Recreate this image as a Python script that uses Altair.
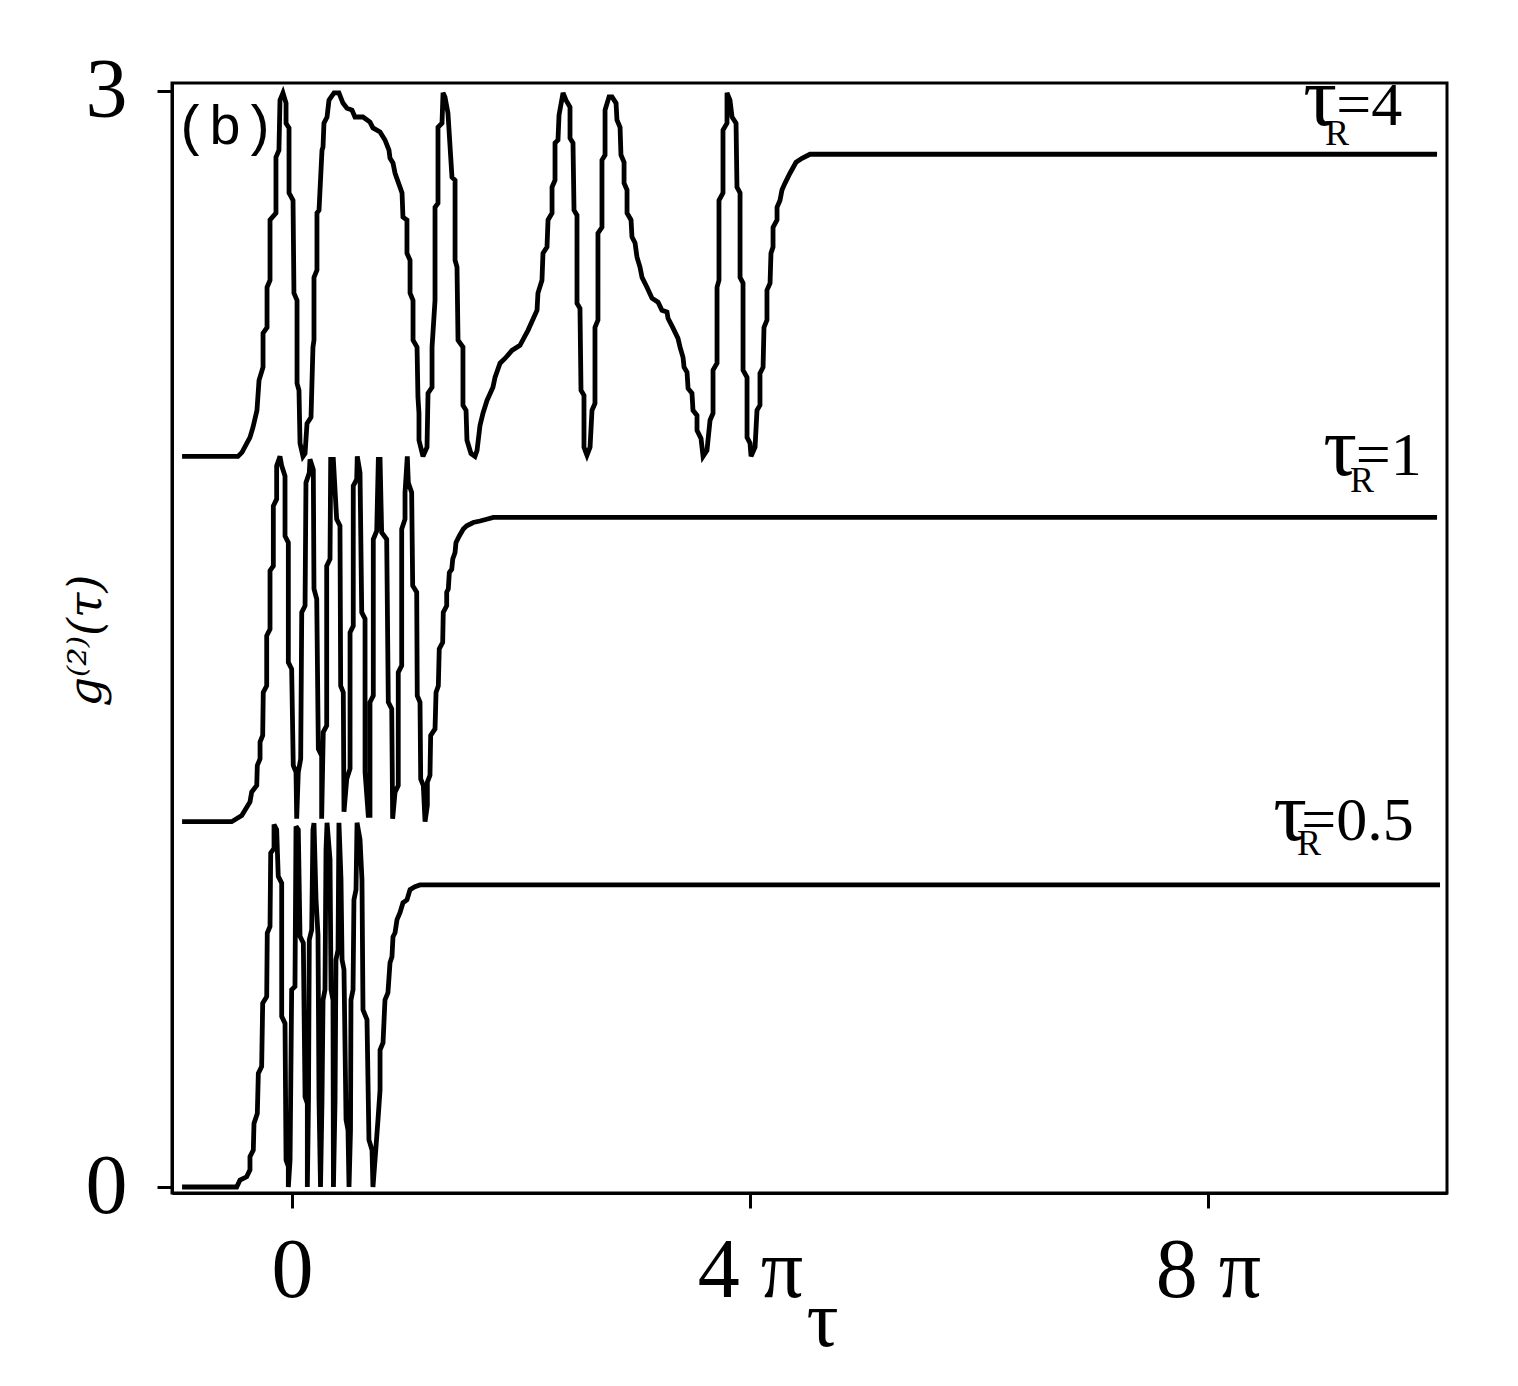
import altair as alt
import pandas as pd

# g2(tau) curves, each in [0,1], drawn with vertical offsets (x in units of pi)
TAU4 = [(-0.96, 0), (-0.472, 0), (-0.437, 0.011), (-0.367, 0.052), (-0.341, 0.079), (-0.306, 0.126),
        (-0.288, 0.208), (-0.253, 0.244), (-0.253, 0.337), (-0.218, 0.353), (-0.218, 0.463), (-0.192, 0.482),
        (-0.192, 0.647), (-0.140, 0.666), (-0.140, 0.819), (-0.114, 0.838), (-0.105, 0.975), (-0.079, 0.995),
        (-0.052, 0.967), (-0.052, 0.912), (-0.026, 0.899), (-0.026, 0.721), (0.009, 0.701), (0.017, 0.447),
        (0.044, 0.427), (0.044, 0.200), (0.061, 0.181), (0.070, 0.036), (0.096, 0.0), (0.114, 0.008),
        (0.131, 0.090), (0.166, 0.107), (0.183, 0.299), (0.192, 0.318), (0.192, 0.490), (0.218, 0.510),
        (0.218, 0.666), (0.236, 0.674), (0.262, 0.838), (0.271, 0.847), (0.279, 0.912), (0.306, 0.929),
        (0.323, 0.975), (0.367, 0.995), (0.410, 0.995), (0.445, 0.967), (0.480, 0.953), (0.524, 0.948),
        (0.550, 0.929), (0.620, 0.929), (0.681, 0.915), (0.707, 0.899), (0.769, 0.888), (0.812, 0.866),
        (0.847, 0.838), (0.856, 0.816), (0.882, 0.803), (0.900, 0.775), (0.943, 0.737), (0.961, 0.721),
        (0.969, 0.655), (1.004, 0.647), (1.004, 0.556), (1.031, 0.537), (1.031, 0.447), (1.057, 0.427),
        (1.057, 0.318), (1.092, 0.299), (1.100, 0.162), (1.109, 0.118), (1.109, 0.044), (1.144, 0.0),
        (1.179, 0.025), (1.188, 0.173), (1.223, 0.189), (1.223, 0.299), (1.249, 0.427), (1.249, 0.682),
        (1.275, 0.693), (1.275, 0.901), (1.310, 0.912), (1.319, 0.995), (1.336, 0.984), (1.362, 0.940),
        (1.397, 0.764), (1.424, 0.756), (1.424, 0.537), (1.441, 0.518), (1.450, 0.318), (1.493, 0.299),
        (1.493, 0.140), (1.520, 0.126), (1.528, 0.044), (1.563, 0.008), (1.598, 0.0), (1.616, 0.016),
        (1.642, 0.085), (1.668, 0.118), (1.703, 0.153), (1.755, 0.189), (1.773, 0.216), (1.817, 0.255),
        (1.860, 0.268), (1.921, 0.290), (1.991, 0.304), (2.061, 0.345), (2.140, 0.400), (2.148, 0.447),
        (2.183, 0.482), (2.192, 0.556), (2.227, 0.573), (2.236, 0.647), (2.271, 0.666), (2.271, 0.737),
        (2.297, 0.756), (2.297, 0.858), (2.323, 0.866), (2.332, 0.934), (2.367, 0.995), (2.393, 0.975),
        (2.428, 0.956), (2.428, 0.871), (2.454, 0.858), (2.463, 0.674), (2.489, 0.660), (2.489, 0.419),
        (2.515, 0.405), (2.524, 0.181), (2.550, 0.167), (2.550, 0.025), (2.576, 0.003), (2.603, 0.025),
        (2.620, 0.126), (2.646, 0.145), (2.646, 0.353), (2.672, 0.373), (2.672, 0.611), (2.707, 0.627),
        (2.707, 0.811), (2.734, 0.825), (2.734, 0.948), (2.769, 0.984), (2.795, 0.984), (2.830, 0.967),
        (2.838, 0.921), (2.865, 0.901), (2.873, 0.825), (2.900, 0.805), (2.900, 0.748), (2.926, 0.729),
        (2.926, 0.666), (2.961, 0.647), (2.969, 0.601), (2.996, 0.584), (3.013, 0.545), (3.039, 0.518),
        (3.057, 0.490), (3.100, 0.463), (3.144, 0.433), (3.197, 0.422), (3.231, 0.400), (3.275, 0.395),
        (3.284, 0.378), (3.328, 0.351), (3.371, 0.323), (3.389, 0.299), (3.415, 0.271), (3.424, 0.244),
        (3.450, 0.230), (3.459, 0.186), (3.493, 0.173), (3.502, 0.126), (3.537, 0.112), (3.537, 0.071),
        (3.572, 0.049), (3.590, 0.0), (3.624, 0.016), (3.651, 0.099), (3.677, 0.118), (3.677, 0.236),
        (3.712, 0.255), (3.712, 0.463), (3.729, 0.482), (3.729, 0.701), (3.764, 0.721), (3.764, 0.893),
        (3.799, 0.912), (3.799, 0.995), (3.825, 0.975), (3.843, 0.929), (3.878, 0.912), (3.886, 0.737),
        (3.913, 0.721), (3.913, 0.490), (3.939, 0.474), (3.939, 0.236), (3.974, 0.216), (3.974, 0.052),
        (4.000, 0.036), (4.009, 0.0), (4.044, 0.025), (4.061, 0.126), (4.087, 0.140), (4.087, 0.227),
        (4.114, 0.244), (4.122, 0.353), (4.148, 0.373), (4.148, 0.455), (4.175, 0.474), (4.183, 0.556),
        (4.201, 0.573), (4.201, 0.627), (4.236, 0.647), (4.236, 0.682), (4.262, 0.701), (4.279, 0.729),
        (4.306, 0.748), (4.349, 0.775), (4.402, 0.805), (4.454, 0.816), (4.524, 0.827), (4.611, 0.827),
        (10.0, 0.827)]

TAU1 = [(-0.96, 0), (-0.527, 0), (-0.439, 0.017), (-0.367, 0.054), (-0.352, 0.081), (-0.308, 0.099),
        (-0.303, 0.154), (-0.279, 0.172), (-0.279, 0.218), (-0.256, 0.236), (-0.251, 0.354), (-0.221, 0.372),
        (-0.221, 0.509), (-0.192, 0.527), (-0.192, 0.687), (-0.163, 0.700), (-0.163, 0.864), (-0.134, 0.883),
        (-0.134, 0.974), (-0.105, 1.0), (-0.090, 0.974), (-0.061, 0.946), (-0.061, 0.782), (-0.032, 0.764),
        (-0.032, 0.436), (-0.003, 0.418), (0.011, 0.154), (0.035, 0.136), (0.041, 0.008), (0.055, 0.136),
        (0.076, 0.172), (0.085, 0.573), (0.114, 0.591), (0.122, 0.928), (0.151, 0.955), (0.157, 0.992),
        (0.186, 0.964), (0.192, 0.637), (0.216, 0.609), (0.230, 0.199), (0.259, 0.181), (0.259, 0.008),
        (0.273, 0.245), (0.303, 0.263), (0.303, 0.700), (0.332, 0.719), (0.338, 0.992), (0.361, 0.992),
        (0.390, 0.828), (0.419, 0.810), (0.425, 0.372), (0.448, 0.354), (0.454, 0.027), (0.478, 0.117),
        (0.507, 0.145), (0.507, 0.518), (0.535, 0.536), (0.535, 0.919), (0.565, 0.937), (0.570, 1.0),
        (0.594, 0.955), (0.609, 0.573), (0.638, 0.555), (0.638, 0.136), (0.666, 0.017), (0.681, 0.017),
        (0.681, 0.327), (0.710, 0.345), (0.710, 0.773), (0.740, 0.796), (0.754, 0.992), (0.769, 0.992),
        (0.783, 0.792), (0.827, 0.773), (0.841, 0.327), (0.871, 0.309), (0.879, 0.008), (0.900, 0.081),
        (0.928, 0.099), (0.928, 0.409), (0.958, 0.427), (0.958, 0.801), (0.987, 0.828), (0.987, 0.901),
        (1.007, 1.0), (1.016, 0.928), (1.045, 0.901), (1.054, 0.646), (1.089, 0.628), (1.094, 0.345),
        (1.118, 0.327), (1.124, 0.117), (1.147, 0.099), (1.162, 0.0), (1.182, 0.045), (1.182, 0.108),
        (1.205, 0.127), (1.211, 0.236), (1.249, 0.254), (1.258, 0.354), (1.278, 0.372), (1.286, 0.473),
        (1.316, 0.491), (1.321, 0.573), (1.351, 0.591), (1.351, 0.628), (1.365, 0.637), (1.374, 0.682),
        (1.395, 0.691), (1.404, 0.719), (1.424, 0.737), (1.432, 0.764), (1.461, 0.782), (1.496, 0.801),
        (1.526, 0.810), (1.583, 0.819), (1.642, 0.823), (1.700, 0.828), (1.758, 0.833), (1.904, 0.833),
        (10.0, 0.833)]

TAU05 = [(-0.96, 0), (-0.483, 0), (-0.454, 0.019), (-0.396, 0.028), (-0.367, 0.047), (-0.367, 0.083),
         (-0.338, 0.101), (-0.332, 0.174), (-0.303, 0.201), (-0.294, 0.311), (-0.265, 0.330), (-0.256, 0.503),
         (-0.221, 0.521), (-0.216, 0.695), (-0.192, 0.713), (-0.186, 0.914), (-0.157, 0.927), (-0.157, 0.992),
         (-0.134, 0.978), (-0.120, 0.850), (-0.090, 0.832), (-0.090, 0.467), (-0.061, 0.448), (-0.052, 0.074),
         (-0.032, 0.056), (-0.032, 0.0), (-0.017, 0.074), (-0.003, 0.540), (0.026, 0.549), (0.035, 0.987),
         (0.055, 0.978), (0.070, 0.686), (0.099, 0.668), (0.114, 0.247), (0.134, 0.229), (0.134, 0.0),
         (0.144, 0.238), (0.151, 0.677), (0.172, 0.704), (0.183, 0.978), (0.192, 0.996), (0.210, 0.786),
         (0.227, 0.690), (0.236, 0.238), (0.249, 0.0), (0.262, 0.238), (0.271, 0.512), (0.288, 0.540),
         (0.297, 0.923), (0.306, 0.997), (0.332, 0.896), (0.341, 0.540), (0.358, 0.512), (0.362, 0.0),
         (0.376, 0.238), (0.384, 0.622), (0.402, 0.649), (0.410, 0.997), (0.428, 0.841), (0.437, 0.622),
         (0.454, 0.595), (0.472, 0.184), (0.489, 0.156), (0.498, 0.0), (0.511, 0.156), (0.515, 0.512),
         (0.533, 0.540), (0.541, 0.786), (0.559, 0.814), (0.568, 0.997), (0.594, 0.951), (0.611, 0.841),
         (0.620, 0.485), (0.655, 0.458), (0.672, 0.129), (0.699, 0.101), (0.707, 0.0), (0.725, 0.074),
         (0.751, 0.184), (0.769, 0.266), (0.769, 0.375), (0.795, 0.395), (0.812, 0.512), (0.838, 0.532),
         (0.856, 0.614), (0.873, 0.630), (0.882, 0.685), (0.900, 0.696), (0.917, 0.732), (0.943, 0.751),
         (0.969, 0.778), (1.004, 0.786), (1.031, 0.814), (1.074, 0.822), (1.118, 0.827), (1.205, 0.827),
         (10.026, 0.827)]

SERIES = ["τR=4", "τR=1", "τR=0.5"]
OFFSETS = [2, 1, 0]
CURVES = [TAU4, TAU1, TAU05]

X_TICKS = [0, 4, 8]
Y_TICKS = [0, 3]

LABEL_VALUES = ["=4", "=1", "=0.5"]
LABEL_TAU_X = [9.127, 9.301, 8.865]
LABEL_R_X = [9.022, 9.240, 8.777]
LABEL_EQ_X = [9.120, 9.290, 8.815]
LABEL_Y = [2.907, 1.949, 0.950]
LABEL_R_Y = [2.852, 1.902, 0.909]

rows = []
for name, off, curve in zip(SERIES, OFFSETS, CURVES):
    for i, (x, g) in enumerate(curve):
        rows.append({"series": name, "i": i, "x": x, "y": g + off})
df = pd.DataFrame(rows)

xs = alt.Scale(domain=[-1.048, 10.087], nice=False, zero=False)
ys = alt.Scale(domain=[-0.0164, 3.022], nice=False, zero=False)
SERIF = "Liberation Serif"

lines = alt.Chart(df).mark_line(color="black", strokeWidth=4.8, clip=True,
                                strokeJoin="miter", strokeMiterLimit=3).encode(
    x=alt.X("x:Q", scale=xs, axis=alt.Axis(
        values=X_TICKS, labelExpr="datum.value == 0 ? '0' : datum.value + ' π'",
        title="τ", titleFont=SERIF, titleFontSize=80, titleFontWeight="normal", titleColor="black",
        titleX=650, titleY=152, titleBaseline="alphabetic", titleAlign="center",
        labelFont=SERIF, labelFontSize=84, labelColor="black", labelPadding=22,
        tickSize=15, tickWidth=3, tickColor="black", domainColor="black", domainWidth=3,
        grid=False, labelFlush=False, labelOverlap=False)),
    y=alt.Y("y:Q", scale=ys, axis=alt.Axis(
        values=Y_TICKS, format="d",
        title="g⁽²⁾(τ)", titleFont="DejaVu Serif", titleFontSize=46, titleFontStyle="italic",
        titleFontWeight="normal", titleColor="black", titleX=-86, titleY=557,
        titleAngle=270, titleAlign="center", titleBaseline="middle",
        labelFont=SERIF, labelFontSize=84, labelColor="black", labelPadding=30,
        labelBaseline="middle",
        tickSize=15, tickWidth=3, tickColor="black", domainColor="black", domainWidth=3,
        grid=False, labelFlush=False, labelOverlap=False)),
    detail="series:N",
    order=alt.Order("i:Q"),
)

frame = alt.Chart(pd.DataFrame({"k": [0]})).mark_rect(
    filled=False, stroke="black", strokeWidth=3
).encode(x=alt.value(0), x2=alt.value(1275), y=alt.value(0), y2=alt.value(1110))

lab = pd.DataFrame({
    "tx": LABEL_TAU_X, "rx": LABEL_R_X, "ex": LABEL_EQ_X,
    "y": LABEL_Y, "ry": LABEL_R_Y, "eq": LABEL_VALUES,
})
base = alt.Chart(lab)
tau_txt = base.mark_text(text="τ", font=SERIF, fontSize=84, align="right", baseline="alphabetic",
                         color="black").encode(x=alt.X("tx:Q", scale=xs), y=alt.Y("y:Q", scale=ys))
r_txt = base.mark_text(text="R", font=SERIF, fontSize=36, align="left", baseline="alphabetic",
                       color="black").encode(x=alt.X("rx:Q", scale=xs), y=alt.Y("ry:Q", scale=ys))
eq_txt = base.mark_text(font=SERIF, fontSize=62, align="left", baseline="alphabetic",
                        color="black").encode(x=alt.X("ex:Q", scale=xs), y=alt.Y("y:Q", scale=ys),
                                              text="eq:N")
panel = alt.Chart(pd.DataFrame({"x": [-1.025], "y": [2.855], "t": ["(b)"]})).mark_text(
    font="Liberation Mono", fontSize=56, align="left", baseline="alphabetic", color="black"
).encode(x=alt.X("x:Q", scale=xs), y=alt.Y("y:Q", scale=ys), text="t:N")

chart = alt.layer(lines, frame, tau_txt, r_txt, eq_txt, panel).properties(
    width=1275, height=1110,
    autosize=alt.AutoSizeParams(type="none"),
    padding={"left": 164, "top": 75, "right": 55, "bottom": 170},
).configure_view(strokeWidth=0).configure(background="white")

chart.save("out.html", embed_options={"renderer": "svg", "actions": False})
